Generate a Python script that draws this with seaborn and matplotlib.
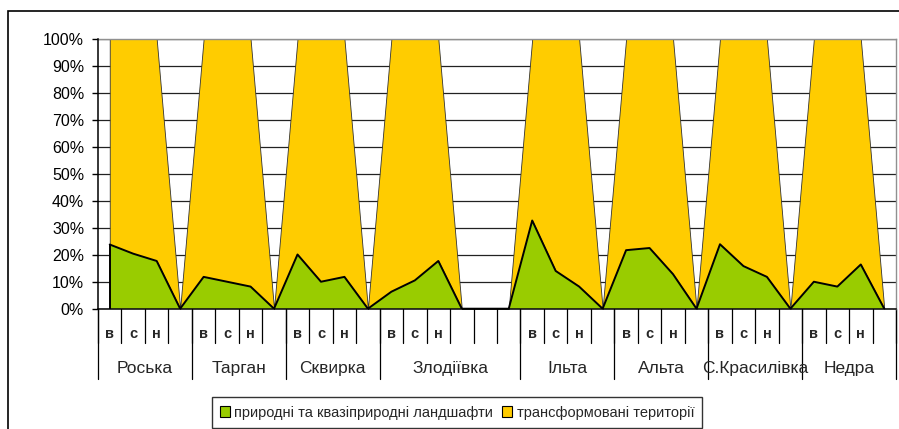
import numpy as np
import pandas as pd
import seaborn as sns
import matplotlib.pyplot as plt
from matplotlib.patches import Patch, Rectangle

sns.set_style("white")
plt.rcParams['font.family'] = ['Liberation Sans', 'DejaVu Sans']

# river groups and how many category cells each one takes on the axis
groups = ["Роська", "Тарган", "Сквирка", "Злодіївка", "Ільта", "Альта", "С.Красилівка", "Недра"]
group_cells = [4, 4, 4, 6, 4, 4, 4, 4]

# cell labels (в - верхів'я, с - середня течія, н - нижня течія), blank = empty cell
cells = ["в", "с", "н", "",
         "в", "с", "н", "",
         "в", "с", "н", "",
         "в", "с", "н", "", "", "",
         "в", "с", "н", "",
         "в", "с", "н", "",
         "в", "с", "н", "",
         "в", "с", "н", ""]

# shares, %
natural = [23.8, 20.4, 17.7, 0,
           11.8, 10.0, 8.2, 0,
           20.1, 10.0, 11.8, 0,
           6.3, 10.5, 17.7, 0, 0, 0,
           32.7, 14.0, 8.2, 0,
           21.7, 22.5, 12.8, 0,
           23.9, 15.8, 11.8, 0,
           10.0, 8.2, 16.4, 0]
transformed = [76.2, 79.6, 82.3, 0,
               88.2, 90.0, 91.8, 0,
               79.9, 90.0, 88.2, 0,
               93.7, 89.5, 82.3, 0, 0, 0,
               67.3, 86.0, 91.8, 0,
               78.3, 77.5, 87.2, 0,
               76.1, 84.2, 88.2, 0,
               90.0, 91.8, 83.6, 0]

df = pd.DataFrame({"cell": cells, "natural": natural, "transformed": transformed})
df["x"] = np.arange(len(df))

green = "#99cc00"
yellow = "#ffcc00"

fig = plt.figure(figsize=(8.99, 4.29), dpi=100)
ax = fig.add_axes([98 / 899, (429 - 308.7) / 429, (896 - 98) / 899, (308.7 - 39) / 429])

top = df["natural"] + df["transformed"]
ax.fill_between(df["x"], df["natural"], top, facecolor=yellow, edgecolor="#333333",
                linewidth=0.6, zorder=2)
ax.fill_between(df["x"], 0, df["natural"], facecolor=green, edgecolor="none", zorder=3)
sns.lineplot(data=df, x="x", y="natural", color="black", linewidth=1.4, ax=ax, zorder=4)
ax.plot([0, 0], [0, df["natural"].iloc[0]], color="black", linewidth=1.4, zorder=4)

ax.set_xlim(-0.5, len(df) - 0.5)
ax.set_ylim(0, 100)
ax.set_yticks(np.arange(0, 101, 10))
ax.set_yticklabels([f"{v}%" for v in range(0, 101, 10)], fontsize=11.5)
ax.yaxis.grid(True, color="#222222", linewidth=0.9, zorder=1)
ax.set_axisbelow(True)
ax.tick_params(axis="y", left=True, length=4, width=1, pad=6, colors="black")
ax.set_xticks([])
ax.set_xlabel("")
ax.set_ylabel("")

for s in ["left", "bottom"]:
    ax.spines[s].set_color("black")
    ax.spines[s].set_linewidth(1.1)
for s in ["top", "right"]:
    ax.spines[s].set_color("#909090")
    ax.spines[s].set_linewidth(1.0)
ax.spines["left"].set_zorder(5)
ax.spines["bottom"].set_zorder(5)

# multi-level category axis
trans = ax.get_xaxis_transform()
h_px = 308.7 - 39
for i in range(len(df) + 1):
    ax.plot([i - 0.5, i - 0.5], [0, -34.5 / h_px], color="black", linewidth=0.9,
            transform=trans, clip_on=False)
for i, lab in enumerate(cells):
    if lab:
        ax.text(i, -25 / h_px, lab, transform=trans, ha="center", va="center",
                fontsize=10.5, fontweight="bold")
edges = np.concatenate([[0], np.cumsum(group_cells)]) - 0.5
for e in edges:
    ax.plot([e, e], [0, -70.5 / h_px], color="black", linewidth=0.9,
            transform=trans, clip_on=False)
for g, a, b in zip(groups, edges[:-1], edges[1:]):
    ax.text((a + b) / 2, -60 / h_px, g, transform=trans, ha="center", va="center",
            fontsize=12.5)

# outer chart frame (cut off at the right and bottom)
fig.patches.append(Rectangle((7.5 / 899, -0.1), 1.2, 1 - 10.5 / 429 + 0.1,
                             transform=fig.transFigure, fill=False,
                             edgecolor="black", linewidth=1.2))

handles = [Patch(facecolor=green, edgecolor="black", linewidth=0.8),
           Patch(facecolor=yellow, edgecolor="black", linewidth=0.8)]
leg = fig.legend(handles, ["природні та квазіприродні ландшафти", "трансформовані території"],
                 loc="center", bbox_to_anchor=(457 / 899, 1 - 412.5 / 429), ncol=2,
                 fontsize=10.5, frameon=True, fancybox=False, handlelength=0.7,
                 handleheight=0.7, handletextpad=0.3, columnspacing=0.6,
                 borderpad=0.55, borderaxespad=0)
leg.get_frame().set_edgecolor("black")
leg.get_frame().set_linewidth(1.0)

fig.savefig("out.png", dpi=100)
